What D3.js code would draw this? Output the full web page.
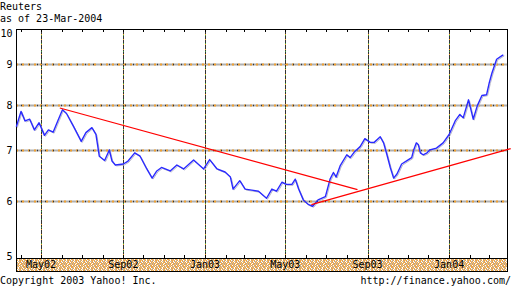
<!DOCTYPE html>
<html>
<head>
<meta charset="utf-8">
<script src="https://cdn.jsdelivr.net/npm/d3@7"></script>
<style>
html,body{margin:0;padding:0;background:#fff;}
svg{display:block;}
text{font-family:"DejaVu Sans Mono","Liberation Mono",monospace;font-size:10px;fill:#000;}
</style>
</head>
<body>
<svg id="chart" width="511" height="287"></svg>
<script>
const title = "Reuters";
const subtitle = "as of 23-Mar-2004";
const footerLeft = "Copyright 2003 Yahoo! Inc.";
const footerRight = "http://finance.yahoo.com/";

const dates = ["2002-03-25","2002-04-01","2002-04-07","2002-04-14","2002-04-21","2002-04-28","2002-05-06","2002-05-12","2002-05-19","2002-05-27",
"2002-06-02","2002-06-08","2002-06-18","2002-06-30","2002-07-07","2002-07-16","2002-07-22","2002-07-27","2002-08-04","2002-08-11",
"2002-08-15","2002-08-20","2002-09-01","2002-09-08","2002-09-18","2002-09-26","2002-10-06","2002-10-14","2002-10-21","2002-10-28",
"2002-11-10","2002-11-20","2002-11-30","2002-12-15","2002-12-30","2003-01-08","2003-01-19","2003-01-31","2003-02-08","2003-02-12",
"2003-02-22","2003-03-02","2003-03-12","2003-03-22","2003-04-03","2003-04-11","2003-04-18","2003-04-26","2003-05-03","2003-05-11",
"2003-05-16","2003-05-21","2003-05-28","2003-06-05","2003-06-11","2003-06-19","2003-06-30","2003-07-07","2003-07-12","2003-07-16",
"2003-07-22","2003-08-01","2003-08-06","2003-08-13","2003-08-21","2003-08-28","2003-09-05","2003-09-11","2003-09-20","2003-09-25",
"2003-09-30","2003-10-05","2003-10-10","2003-10-15","2003-10-22","2003-10-30","2003-11-06","2003-11-09","2003-11-13","2003-11-16",
"2003-11-19","2003-11-23","2003-11-29","2003-12-03","2003-12-13","2003-12-23","2004-01-01","2004-01-10","2004-01-17","2004-01-22",
"2004-01-30","2004-02-06","2004-02-12","2004-02-19","2004-02-26","2004-03-01","2004-03-05","2004-03-12","2004-03-20","2004-03-22"];
const prices = [7.50,7.85,7.63,7.67,7.43,7.59,7.31,7.43,7.38,7.67,
7.89,7.80,7.52,7.18,7.37,7.48,7.33,6.87,6.78,7.00,
6.77,6.69,6.71,6.77,6.94,6.87,6.61,6.43,6.57,6.64,
6.57,6.69,6.61,6.79,6.61,6.80,6.61,6.55,6.45,6.22,
6.38,6.22,6.20,6.18,6.05,6.22,6.18,6.35,6.31,6.31,
6.41,6.22,6.02,5.93,5.90,6.02,6.08,6.41,6.54,6.45,
6.67,6.90,6.84,6.97,7.07,7.24,7.16,7.16,7.28,7.15,
6.90,6.64,6.43,6.51,6.71,6.78,6.84,7.00,7.15,7.11,
6.94,6.90,6.94,7.00,7.04,7.15,7.33,7.63,7.78,7.70,
8.12,7.67,7.98,8.22,8.24,8.53,8.77,9.13,9.23,9.25];

const trend1Dates = ["2002-05-29","2003-08-17"];
const trend1Values = [7.93,6.21];
const trend2Dates = ["2003-06-09","2004-04-02"];
const trend2Values = [5.93,7.03];

const yTicks = [5,6,7,8,9,10];
const yGrid = [6,7,8,9];
const xTickDates = ["2002-05-01","2002-09-01","2003-01-01","2003-05-01","2003-09-01","2004-01-01"];
const xTickLabels = ["May02","Sep02","Jan03","May03","Sep03","Jan04"];
const startDate = "2002-03-23", endDate = "2004-03-23";

const parse = d3.utcParse("%Y-%m-%d");
const svg = d3.select("#chart");

const L = 16, R = 507, T = 29, B = 258, bandB = 271;

const x = d3.scaleUtc().domain([parse(startDate), parse(endDate)]).range([15, 504]);
const y = d3.scaleLog().domain(yTicks).range([258, 201, 150, 105, 64, 29]);

// speckled dither pattern for band
const defs = svg.append("defs");
const pat = defs.append("pattern").attr("id","dither").attr("width",8).attr("height",8).attr("patternUnits","userSpaceOnUse");
const palette = {o:"#f0a444", g:"#b8b8b8", w:"#ffffff", t:"#e8c890"};
const cells = ["ogowoogt","wotogwoo","ogowotgo","otwogowo","gowootow","owtgowog","towoogwo","ogotwoog"];
cells.forEach((row,r)=>row.split("").forEach((c,k)=>pat.append("rect").attr("x",k).attr("y",r).attr("width",1).attr("height",1).attr("fill",palette[c])));

// titles
svg.append("text").attr("x",0).attr("y",10).text(title);
svg.append("text").attr("x",0).attr("y",22).text(subtitle);

// horizontal grid
const hg = svg.append("g");
yGrid.forEach(v=>{
  const yy = Math.round(y(v)) + 0.5;
  hg.append("line").attr("x1",L).attr("x2",R).attr("y1",yy).attr("y2",yy).attr("stroke","#b0b0b0").attr("stroke-width",2);
  hg.append("line").attr("x1",L).attr("x2",R).attr("y1",yy).attr("y2",yy).attr("stroke","#f0a030").attr("stroke-width",2).attr("stroke-dasharray","2,4");
  hg.append("line").attr("x1",L).attr("x2",R).attr("y1",yy).attr("y2",yy).attr("stroke","#333").attr("stroke-width",1.5).attr("stroke-dasharray","1,7").attr("stroke-dashoffset",3);
});

// vertical grid
const vg = svg.append("g");
xTickDates.forEach(d=>{
  const xx = Math.round(x(parse(d))) + 0.5;
  vg.append("line").attr("x1",xx).attr("x2",xx).attr("y1",T).attr("y2",B).attr("stroke","#333").attr("stroke-width",1);
  vg.append("line").attr("x1",xx).attr("x2",xx).attr("y1",T).attr("y2",B).attr("stroke","#f0a020").attr("stroke-width",1).attr("stroke-dasharray","1,4");
  vg.append("line").attr("x1",xx).attr("x2",xx).attr("y1",T).attr("y2",B).attr("stroke","#3a9a3a").attr("stroke-width",1).attr("stroke-dasharray","1,7").attr("stroke-dashoffset",2);
});

// minor month ticks
const months = d3.utcMonth.range(parse("2002-04-01"), parse("2004-03-24"));
months.forEach(m=>{
  const xx = Math.round(x(m)) + 0.5;
  svg.append("line").attr("x1",xx).attr("x2",xx).attr("y1",B).attr("y2",B-3).attr("stroke","#000");
  svg.append("line").attr("x1",xx).attr("x2",xx).attr("y1",T).attr("y2",T+3).attr("stroke","#000");
});

// band
svg.append("rect").attr("x",L+0.5).attr("y",B+0.5).attr("width",R-L).attr("height",bandB-B).attr("fill","url(#dither)").attr("stroke","#000");

// frame
svg.append("rect").attr("x",L+0.5).attr("y",T+0.5).attr("width",R-L).attr("height",B-T).attr("fill","none").attr("stroke","#000");

// x labels
xTickDates.forEach((d,i)=>{
  svg.append("text").attr("x",x(parse(d))).attr("y",268).attr("text-anchor","middle").text(xTickLabels[i]);
});

// y labels
yTicks.forEach(v=>{
  const by = Math.max(37, Math.min(260, y(v)+4));
  svg.append("text").attr("x",12.5).attr("y",by).attr("text-anchor","end").text(String(v));
});

// price line
const series = dates.map((d,i)=>({d:parse(d), v:prices[i]}));
const line = d3.line().x(p=>x(p.d)).y(p=>y(p.v));
svg.append("path").datum(series).attr("d",line).attr("fill","none").attr("stroke","#b8b8cc").attr("stroke-width",1).attr("transform","translate(1,1)");
svg.append("path").datum(series).attr("d",line).attr("fill","none").attr("stroke","#2a2aff").attr("stroke-width",1.4).attr("stroke-linejoin","round");

// trend lines
[[trend1Dates,trend1Values],[trend2Dates,trend2Values]].forEach(([ds,vs])=>{
  const pts = ds.map((d,i)=>({d:parse(d), v:vs[i]}));
  svg.append("path").datum(pts).attr("d",line).attr("fill","none").attr("stroke","#ff0000").attr("stroke-width",1.2);
});

// footer
svg.append("text").attr("x",0).attr("y",284).text(footerLeft);
svg.append("text").attr("x",511).attr("y",284).attr("text-anchor","end").text(footerRight);
</script>
</body>
</html>
